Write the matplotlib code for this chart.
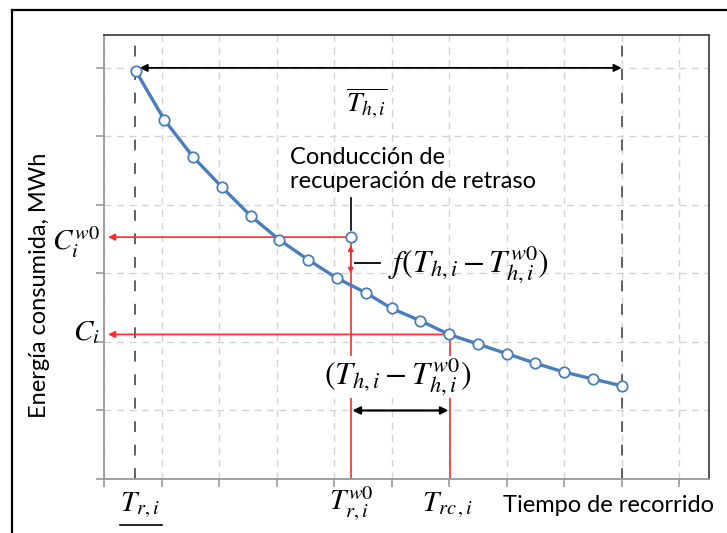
import matplotlib
matplotlib.use("Agg")
import matplotlib.pyplot as plt
from matplotlib.lines import Line2D
import numpy as np

plt.rcParams['mathtext.fontset'] = 'stix'
plt.rcParams['font.family'] = ['Lato', 'DejaVu Sans']

# curve points (travel time, energy)
t_vals = [0.55, 1.05, 1.55, 2.05, 2.55, 3.05, 3.55, 4.05, 4.55,
          5.0, 5.5, 6.0, 6.5, 7.0, 7.5, 8.0, 8.5, 9.0]
e_vals = [5.96, 5.24, 4.70, 4.26, 3.84, 3.49, 3.20, 2.93, 2.72,
          2.49, 2.31, 2.11, 1.97, 1.83, 1.69, 1.56, 1.46, 1.36]

# key points
t_min = 0.54        # T_r,i
t_max = 9.0         # end of range
t_w0 = 4.29         # T_r,i^w0
t_rc = 6.02         # T_rc,i
c_w0 = 3.53         # C_i^w0
c_i = 2.11          # C_i

blue = '#4a7ebb'
red = '#ff2a2a'

fig = plt.figure(figsize=(7.27, 5.33), dpi=100)
ax = fig.add_axes([104 / 727, 54 / 533, 605 / 727, 444 / 533])
ax.set_xlim(0, 10.52)
ax.set_ylim(0, 6.48)
ax.set_xticks(range(0, 11))
ax.set_yticks(range(0, 7))
ax.set_xticklabels([])
ax.set_yticklabels([])
ax.tick_params(length=6, width=1.2, color='#999999')
ax.grid(True, color='#d4d4d4', linestyle=(0, (5, 4)), linewidth=1.0)
ax.set_axisbelow(True)
for s in ['left', 'bottom']:
    ax.spines[s].set_color('#999999')
    ax.spines[s].set_linewidth(1.3)
for s in ['top', 'right']:
    ax.spines[s].set_color('#444444')
    ax.spines[s].set_linewidth(1.3)

# dark dashed limit lines
for xv in [t_min, t_max]:
    ax.axvline(xv, color='#555555', linestyle=(0, (6, 7)), linewidth=1.3, zorder=1)

# red guide lines
ax.plot([t_w0, t_w0], [0, c_w0], color=red, lw=1.2, zorder=2)
ax.plot([t_rc, t_rc], [0, c_i], color=red, lw=1.2, zorder=2)
ax.annotate('', xy=(0.07, c_w0), xytext=(t_w0, c_w0),
            arrowprops=dict(arrowstyle='-|>', color=red, lw=1.2,
                            mutation_scale=10, shrinkA=0, shrinkB=0))
ax.annotate('', xy=(0.07, c_i), xytext=(t_rc, c_i),
            arrowprops=dict(arrowstyle='-|>', color=red, lw=1.2,
                            mutation_scale=10, shrinkA=0, shrinkB=0))
# small delay arrow between C_w0 point and the curve
ax.annotate('', xy=(t_w0, c_w0 - 0.12), xytext=(t_w0, 3.0),
            arrowprops=dict(arrowstyle='<|-|>', color=red, lw=1.0,
                            mutation_scale=8, shrinkA=0, shrinkB=0))

# black arrows
ax.annotate('', xy=(0.62, 6.0), xytext=(t_max, 6.0),
            arrowprops=dict(arrowstyle='<|-|>', color='black', lw=1.3,
                            mutation_scale=11, shrinkA=0, shrinkB=0))
ax.annotate('', xy=(t_w0 + 0.03, 1.0), xytext=(t_rc - 0.03, 1.0),
            arrowprops=dict(arrowstyle='<|-|>', color='black', lw=1.6,
                            mutation_scale=11, shrinkA=0, shrinkB=0))

# curve
ax.plot(t_vals, e_vals, '-o', color=blue, lw=2.4, ms=7.5,
        mfc='white', mec=blue, mew=1.3, zorder=4)
ax.plot([t_w0], [c_w0], 'o', ms=7.5, mfc='white', mec=blue, mew=1.3, zorder=4)

# annotations
ax.plot([t_w0, t_w0], [3.64, 4.10], color='black', lw=1.2)
ax.text(3.23, 4.52, 'Conducción de\nrecuperación de retraso', fontsize=17,
        ha='left', va='center', linespacing=1.2)
ax.text(4.57, 5.50, r'$\overline{T_{h,i}}$', fontsize=20, ha='center', va='center')
ax.plot([4.37, 4.80], [3.15, 3.15], color='black', lw=1.3)
ax.text(4.94, 3.13, r'$f(T_{h,i}-T_{h,i}^{w0})$', fontsize=23, ha='left', va='center')
ax.text(5.11, 1.49, r'$(T_{h,i}-T_{h,i}^{w0})$', fontsize=23, ha='center', va='center',
        bbox=dict(facecolor='white', edgecolor='none', pad=0.3), zorder=5)

ax.text(-0.08, 3.46, r'$C_i^{w0}$', fontsize=21, ha='right', va='center', clip_on=False)
ax.text(-0.08, 2.14, r'$C_i$', fontsize=21, ha='right', va='center', clip_on=False)

ax.text(0.63, -0.38, r'$T_{r,i}$', fontsize=21, ha='center', va='center', clip_on=False)
ax.plot([0.27, 1.01], [-0.67, -0.67], color='black', lw=1.2, clip_on=False)
ax.text(4.3, -0.36, r'$T_{r,i}^{w0}$', fontsize=21, ha='center', va='center', clip_on=False)
ax.text(5.98, -0.38, r'$T_{rc\,,i}$', fontsize=21, ha='center', va='center', clip_on=False)
ax.text(6.94, -0.38, 'Tiempo de recorrido', fontsize=17, ha='left', va='center', clip_on=False)

fig.text(40 / 727, 1 - 285 / 533, 'Energía consumida, MWh', fontsize=17,
         rotation=90, ha='center', va='center')

# outer frame (cut by the image border)
fig.add_artist(Line2D([12 / 727, 12 / 727], [0, 1 - 10 / 533], color='black', lw=1.6))
fig.add_artist(Line2D([12 / 727, 1], [1 - 10 / 533, 1 - 10 / 533], color='black', lw=1.6))

fig.savefig('out.png', dpi=100)
